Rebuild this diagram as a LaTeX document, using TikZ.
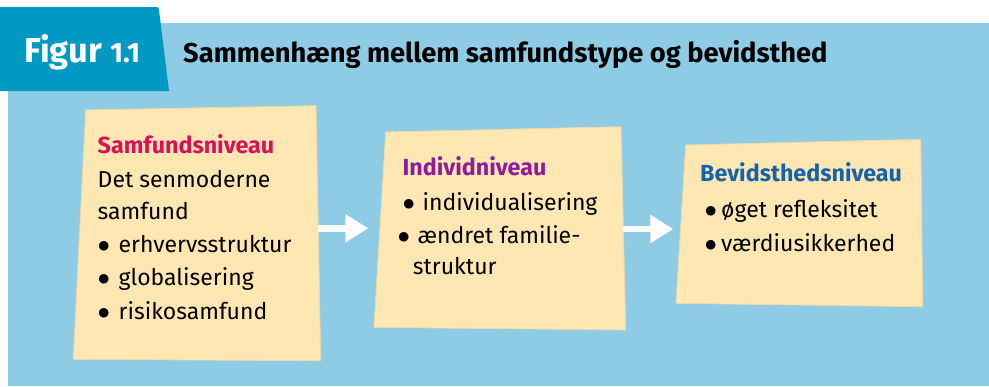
\documentclass[tikz,border=0pt]{standalone}
\usepackage{fontspec}
\setmainfont{Fira Sans}
\usepackage{tikz}
\usetikzlibrary{arrows.meta, positioning}
\definecolor{skyback}{HTML}{8ECBE4}
\definecolor{tabblue}{HTML}{0099C4}
\definecolor{notefill}{HTML}{FFE7B4}
\definecolor{noteedge}{HTML}{EED9A8}
\definecolor{samfred}{HTML}{D8115B}
\definecolor{indivpurple}{HTML}{8E1C9C}
\definecolor{bevblue}{HTML}{1463AC}
\tikzstyle{note} = [fill=notefill, draw=noteedge, line width=0.8pt]
\tikzstyle{head} = [anchor=base west, inner sep=0pt, font=\fontsize{23.3}{27}\selectfont\bfseries]
\tikzstyle{item} = [anchor=base west, inner sep=0pt, font=\fontsize{23}{27}\selectfont]
\tikzstyle{flow} = [white, line width=6.5pt, -{Triangle[length=23pt, width=27pt]}]
\newcommand{\bul}[1][21pt]{\makebox[#1][l]{$\bullet$}}

\begin{document}
\begin{tikzpicture}[x=1pt, y=-1pt]
\useasboundingbox (0,0) rectangle (989,386);
\fill[white] (0,0) rectangle (989,386);
\fill[skyback] (8,23) rectangle (989,386);
\fill[tabblue] (0,7) -- (157,7) to[out=0, in=100] (159,10) -- (169,91) -- (0,91) -- cycle;
\node (fig) [anchor=base west, inner sep=0pt, white, font=\fontsize{34.5}{38}\selectfont\bfseries] at (24,62) {Figur {\fontsize{28}{32}\selectfont 1.1}};
\node (title) [anchor=base west, inner sep=0pt, font=\fontsize{27.3}{32}\selectfont\bfseries] at (183,62) {Sammenhæng mellem samfundstype og bevidsthed};

% samfund
\coordinate (s1) at (85.7,110);
\coordinate (s2) at (316,105.7);
\coordinate (s3) at (320.7,360.7);
\coordinate (s4) at (73.3,359.3);
\draw[note] (s1) -- (s2) -- (s3) -- (s4) -- cycle;
\node (samf) [head, samfred] at (97.5,153) {Samfundsniveau};
\node (samf1) [item] at (97.5,187) {Det senmoderne};
\node (samf2) [item] at (97.5,219) {samfund};
\node (samf3) [item] at (97.5,252) {\bul erhvervsstruktur};
\node (samf4) [item] at (97.5,285) {\bul globalisering};
\node (samf5) [item] at (97.5,319) {\bul risikosamfund};

% individ
\coordinate (i1) at (385.7,132);
\coordinate (i2) at (621,126.7);
\coordinate (i3) at (625.7,330);
\coordinate (i4) at (374,327.3);
\draw[note] (i1) -- (i2) -- (i3) -- (i4) -- cycle;
\node (indiv) [head, indivpurple] at (402.3,175) {Individniveau};
\node (indiv1) [item] at (402.5,210) {\bul[20pt]individualisering};
\node (indiv2) [item] at (397.5,243) {\bul[20pt]ændret familie-};
\node (indiv3) [item] at (412.7,274) {struktur};

% bevidsthed
\coordinate (b1) at (685.7,145);
\coordinate (b2) at (920.7,139.3);
\coordinate (b3) at (922.7,306.7);
\coordinate (b4) at (676,303.3);
\draw[note] (b1) -- (b2) -- (b3) -- (b4) -- cycle;
\node (bev) [head, bevblue] at (700,181.7) {Bevidsthedsniveau};
\node (bev1) [item] at (704.5,217.3) {\bul[16.5pt]øget refleksitet};
\node (bev2) [item] at (704.5,251.7) {\bul[16.5pt]værdiusikkerhed};

% pile
\coordinate (a1) at (318,228.3);
\coordinate (a1e) at (368.3,228.3);
\coordinate (a2) at (623,229);
\coordinate (a2e) at (673.3,229);
\draw[flow] (a1) -- (a1e);
\draw[flow] (a2) -- (a2e);
\end{tikzpicture}
\end{document}
